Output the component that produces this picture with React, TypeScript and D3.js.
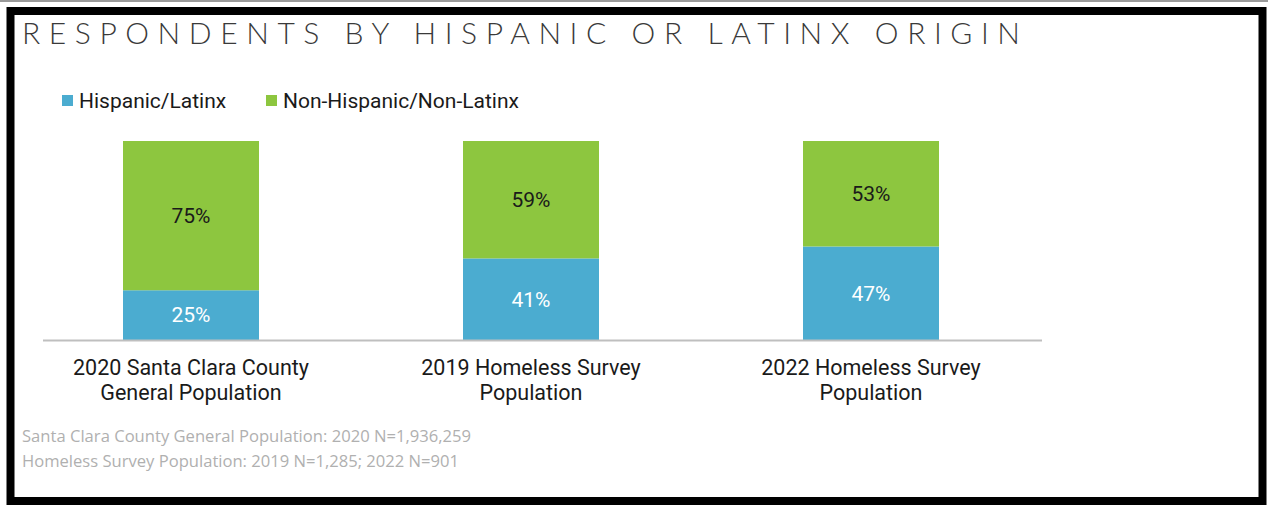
import React from "react";
import * as d3 from "d3";

const categories = [
  ["2020 Santa Clara County", "General Population"],
  ["2019 Homeless Survey", "Population"],
  ["2022 Homeless Survey", "Population"],
];
const seriesNames = ["Hispanic/Latinx", "Non-Hispanic/Non-Latinx"];
const hispanic = [25, 41, 47];
const nonHispanic = [75, 59, 53];
const footnotes = [
  "Santa Clara County General Population: 2020 N=1,936,259",
  "Homeless Survey Population: 2019 N=1,285; 2022 N=901",
];
const footnoteWidths = [449, 437];
const title = "RESPONDENTS BY HISPANIC OR LATINX ORIGIN";

const W = 1268;
const H = 506;
const BLUE = "#4bacd0";
const GREEN = "#8dc63f";

export default function App() {
  const x = d3
    .scaleBand<number>()
    .domain(d3.range(categories.length))
    .range([21, 1041])
    .paddingInner(0.6)
    .paddingOuter(0.3);
  const y = d3.scaleLinear().domain([0, 100]).range([340, 141]);

  const rows = categories.map((c, i) => ({ i, h: hispanic[i], n: nonHispanic[i] }));
  const stack = d3.stack<any>().keys(["h", "n"])(rows as any);
  const colors = [BLUE, GREEN];
  const labelColors = ["#ffffff", "#1a1a1a"];

  return (
    <div style={{ position: "absolute", left: 0, top: 0 }}>
      <svg width={W} height={H} style={{ display: "block", background: "#fff" }}>
        <line x1={0} x2={W} y1={1} y2={1} stroke="#9a9a9a" strokeWidth={2} />
        <rect x={10.5} y={11} width={1252} height={490} fill="none" stroke="#000" strokeWidth={8} />
        <text
          x={22}
          y={44}
          textLength={998}
          lengthAdjust="spacing"
          fontFamily="Lato, 'Open Sans', sans-serif"
          fontWeight={300}
          fontSize={30}
          fill="#3a3a3a"
        >
          {title}
        </text>
        {/* legend */}
        {seriesNames.map((s, k) => {
          const lx = [62, 266][k];
          return (
            <g key={s}>
              <rect x={lx} y={95} width={11} height={11} fill={colors[k]} />
              <text x={lx + 17} y={107.5} fontFamily="Roboto, sans-serif" fontSize={21} fill="#1a1a1a">
                {s}
              </text>
            </g>
          );
        })}
        {/* bars */}
        {stack.map((layer, k) => (
          <g key={k}>
            {layer.map((d: any, i: number) => (
              <g key={i}>
                <rect
                  x={x(i)}
                  y={y(d[1])}
                  width={x.bandwidth()}
                  height={y(d[0]) - y(d[1])}
                  fill={colors[k]}
                />
                <text
                  x={(x(i) as number) + x.bandwidth() / 2}
                  y={(y(d[0]) + y(d[1])) / 2}
                  dy="0.35em"
                  textAnchor="middle"
                  fontFamily="Roboto, sans-serif"
                  fontSize={21}
                  fill={labelColors[k]}
                >
                  {d[1] - d[0]}%
                </text>
              </g>
            ))}
          </g>
        ))}
        <line x1={43} x2={1042} y1={340.5} y2={340.5} stroke="#bfbfbf" strokeWidth={2} />
        {/* category labels */}
        {categories.map((c, i) => (
          <text
            key={i}
            x={(x(i) as number) + x.bandwidth() / 2}
            textAnchor="middle"
            fontFamily="Roboto, sans-serif"
            fontSize={21.5}
            fill="#1a1a1a"
          >
            {c.map((line, j) => (
              <tspan key={j} x={(x(i) as number) + x.bandwidth() / 2} y={375 + j * 24.5}>
                {line}
              </tspan>
            ))}
          </text>
        ))}
        {footnotes.map((f, j) => (
          <text
            key={j}
            x={22}
            y={442 + j * 25}
            textLength={footnoteWidths[j]}
            lengthAdjust="spacingAndGlyphs"
            fontFamily="'Open Sans', sans-serif"
            fontSize={15.5}
            fill="#b0b0b0"
          >
            {f}
          </text>
        ))}
      </svg>
    </div>
  );
}
